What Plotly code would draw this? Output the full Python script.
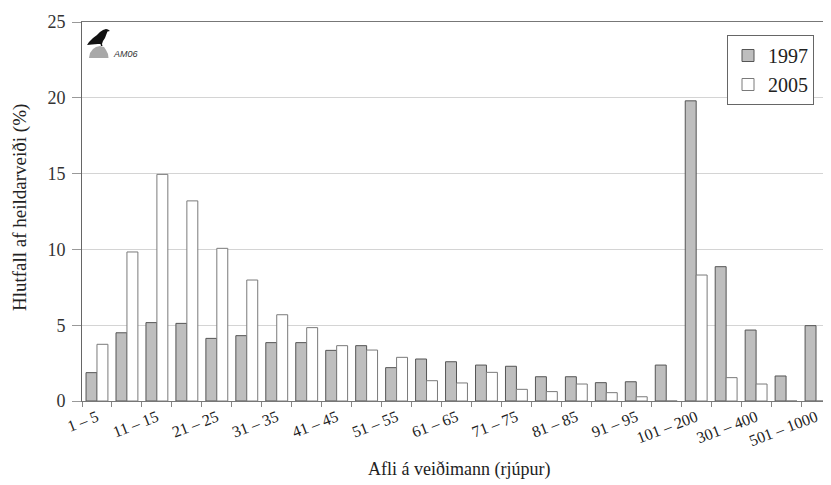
import plotly.graph_objects as go

categories = ["1 – 5", "6 – 10", "11 – 15", "16 – 20", "21 – 25", "26 – 30", "31 – 35", "36 – 40",
              "41 – 45", "46 – 50", "51 – 55", "56 – 60", "61 – 65", "66 – 70", "71 – 75", "76 – 80",
              "81 – 85", "86 – 90", "91 – 95", "96 – 100", "101 – 200", "201 – 300", "301 – 400",
              "401 – 500", "501 – 1000"]
shown_labels = ["1 – 5", "11 – 15", "21 – 25", "31 – 35", "41 – 45", "51 – 55", "61 – 65", "71 – 75",
                "81 – 85", "91 – 95", "101 – 200", "301 – 400", "501 – 1000"]
values_1997 = [1.87, 4.5, 5.17, 5.12, 4.13, 4.31, 3.85, 3.85, 3.34, 3.65, 2.2, 2.77, 2.59, 2.37, 2.29,
               1.6, 1.6, 1.21, 1.27, 2.37, 19.8, 8.86, 4.68, 1.65, 4.97]
values_2005 = [3.74, 9.83, 14.95, 13.2, 10.07, 7.98, 5.69, 4.84, 3.65, 3.36, 2.88, 1.34, 1.19, 1.89, 0.77,
               0.62, 1.12, 0.55, 0.28, 0.0, 8.31, 1.54, 1.12, 0.0, 0.0]
y_ticks = [0, 5, 10, 15, 20, 25]

OFF = 8  # default page body margin
W, H = 831 - OFF, 485 - OFF
ML, MR, MT, MB = 82 - OFF, 0, 22 - OFF, 84
PW, PH = W - ML - MR, H - MT - MB

def px(x):
    # x given in window pixels
    return (x - OFF - ML) / PW

def py(y):
    return (H - MB - (y - OFF)) / PH

SERIF = "Liberation Serif, Times New Roman, serif"

fig = go.Figure()
fig.add_trace(go.Bar(x=categories, y=values_1997, name="1997",
                     marker=dict(color="#bebebe", line=dict(color="#555555", width=1))))
fig.add_trace(go.Bar(x=categories, y=values_2005, name="2005",
                     marker=dict(color="#ffffff", line=dict(color="#7a7a7a", width=1))))

ticktext = [c if c in shown_labels else "" for c in categories]

fig.update_layout(
    width=W, height=H,
    margin=dict(l=ML, r=MR, t=MT, b=MB, autoexpand=False),
    paper_bgcolor="white", plot_bgcolor="white",
    barmode="group", bargap=0.27, bargroupgap=0,
    font=dict(family=SERIF, color="#222222"),
    showlegend=True,
    legend=dict(x=px(727), y=py(35), xanchor="left", yanchor="top",
                bgcolor="white", bordercolor="#666666", borderwidth=1,
                font=dict(family=SERIF, size=20, color="#222222"),
                entrywidth=64, tracegroupgap=0),
    xaxis=dict(type="category", tickmode="array", tickvals=categories, ticktext=ticktext,
               tickson="boundaries", ticks="outside", ticklen=5, tickcolor="#888888",
               tickangle=-21, tickfont=dict(family=SERIF, size=16, color="#222222"),
               showgrid=False, showline=True, linecolor="#777777", linewidth=1, mirror=True,
               range=[-0.5, len(categories) - 0.5], automargin=False),
    yaxis=dict(range=[0, 25], tickmode="array", tickvals=y_ticks,
               ticks="outside", ticklen=9, tickcolor="#999999", ticklabelstandoff=3,
               tickfont=dict(family=SERIF, size=18, color="#333333"),
               showgrid=True, gridcolor="#d4d4d4", gridwidth=1,
               showline=True, linecolor="#666666", linewidth=1, zeroline=False,
               automargin=False),
    annotations=[
        dict(text="Afli á veiðimann (rjúpur)", xref="paper", yref="paper",
             x=px(459), y=py(469), xanchor="center", yanchor="middle", showarrow=False,
             font=dict(family=SERIF, size=18, color="#222222")),
        dict(text="Hlutfall af heildarveiði (%)", xref="paper", yref="paper",
             x=px(20), y=py(208), xanchor="center", yanchor="middle", showarrow=False,
             textangle=-90, font=dict(family=SERIF, size=19, color="#222222")),
        dict(text="<i>AM06</i>", xref="paper", yref="paper",
             x=px(111), y=py(54), xanchor="left", yanchor="middle", showarrow=False,
             font=dict(family="Liberation Sans, Arial, sans-serif", size=9, color="#333333")),
    ],
)

def path(points, close=True):
    s = "M " + " L ".join(f"{px(a):.5f},{py(b):.5f}" for a, b in points)
    return s + (" Z" if close else "")

# logo: grey mound
mound = [(89, 58), (90, 53), (93, 49), (96, 47), (100, 46), (104, 47), (106, 50), (108, 54), (108.5, 58)]
fig.add_shape(type="path", xref="paper", yref="paper", path=path(mound),
              fillcolor="#a8a8a8", line=dict(width=0))
# logo: bird
bird = [(87, 45), (89, 42), (93, 38), (97, 35), (100, 32), (103, 30), (106, 29), (108, 29.5),
        (110, 31), (107.5, 31.5), (106.5, 34), (105, 38), (103, 41), (102, 44), (102.5, 46),
        (101, 46), (100.5, 44), (98, 44), (92, 44.5)]
fig.add_shape(type="path", xref="paper", yref="paper", path=path(bird),
              fillcolor="#111111", line=dict(width=0))

fig.write_html("out.html")
